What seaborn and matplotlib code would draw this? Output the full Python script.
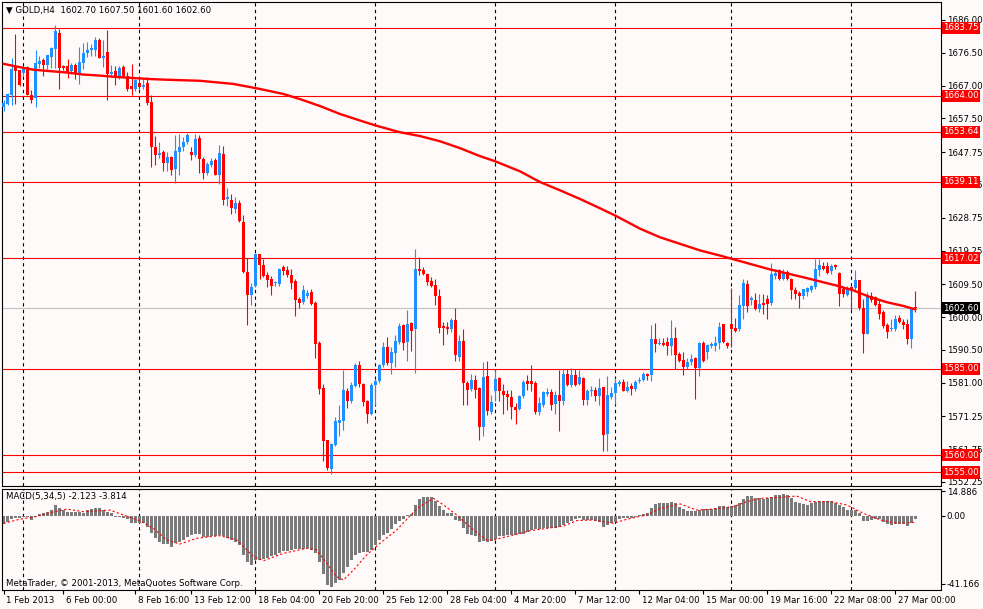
import matplotlib
matplotlib.use("Agg")
import matplotlib.pyplot as plt
import matplotlib.transforms as mtransforms
import pandas as pd
import seaborn as sns

# GOLD H4 candles (bar 0 = 1 Feb 2013)
opens = [
    1660.8, 1661.6, 1664.2, 1672.4, 1671.4, 1670.7, 1672.4, 1664.4, 1663.5, 1673.3,
    1674.3, 1673.1, 1675.4, 1677.5, 1682.3, 1672.8, 1672.7, 1671.2, 1673.1, 1670.4,
    1673.6, 1676.5, 1677.2, 1677.2, 1680.3, 1674.9, 1676.7, 1670.4, 1671.1, 1669.5,
    1672.4, 1669.9, 1666.8, 1666.1, 1667.7, 1666.6, 1667.7, 1662.4, 1649.2,
    1646.8, 1647.9, 1644.7, 1646.4, 1642.9, 1647.8, 1649.2, 1650.6, 1647.9, 1646.8, 1651.9,
    1645.8, 1641.8, 1643.9, 1645.6, 1641.2, 1647.3, 1634.3, 1633.9, 1631.3, 1633.1,
    1627.5, 1613.0, 1606.4, 1609.1, 1618.3, 1615.1, 1612.2, 1610.9, 1609.9, 1609.6,
    1614.4, 1613.5, 1612.3, 1610.3, 1605.1, 1604.3, 1606.1, 1607.2, 1604.1, 1592.5,
    1579.4, 1564.3, 1556.1, 1563.0, 1569.4, 1569.8, 1578.7, 1575.6, 1580.0, 1586.2,
    1580.7, 1575.6, 1571.8, 1580.2, 1581.4, 1586.2, 1591.3, 1586.8, 1589.7, 1592.7,
    1597.8, 1592.7, 1598.3, 1596.4, 1614.0, 1613.7, 1612.5, 1610.3, 1609.3, 1606.1,
    1597.4, 1597.0, 1596.4, 1599.0, 1588.4, 1593.2, 1581.0, 1579.2, 1581.9,
    1579.5, 1568.1, 1582.9, 1572.5, 1578.7, 1582.3, 1578.7, 1577.8, 1576.8, 1573.9, 1573.4,
    1577.1, 1581.6, 1581.4, 1581.0, 1572.5, 1574.6, 1577.8, 1578.3, 1574.9, 1577.5,
    1575.6, 1583.6, 1580.2, 1583.3, 1580.7, 1582.3, 1576.1, 1578.5, 1579.0, 1577.1,
    1579.7, 1566.2, 1576.8, 1578.1, 1580.7, 1581.1, 1578.7, 1580.0, 1579.2,
    1581.4, 1581.9, 1583.5, 1583.1, 1593.7, 1592.3, 1592.6, 1592.7, 1591.6, 1593.9, 1589.4,
    1587.6, 1585.5, 1587.0, 1588.1, 1585.2, 1592.5, 1590.0, 1591.6, 1591.6, 1592.6,
    1598.0, 1592.5, 1598.0, 1596.8, 1596.4, 1603.2, 1609.6, 1604.8, 1604.8, 1602.2,
    1604.1, 1605.3, 1604.1, 1612.0,
    1613.5, 1611.1, 1613.0, 1611.1, 1607.7, 1607.0, 1606.2, 1607.2, 1607.7, 1608.7,
    1613.5, 1614.7, 1614.7, 1613.2, 1615.1, 1612.8, 1608.0, 1606.4, 1608.7, 1608.4,
    1610.6, 1602.6, 1595.2, 1606.2, 1605.8, 1603.8, 1601.4, 1597.8, 1596.4, 1596.6,
    1599.7, 1598.7, 1598.0, 1593.5, 1602.7,
]
highs = [
    1662.9, 1665.0, 1675.1, 1682.0, 1671.6, 1672.4, 1672.6, 1665.8, 1677.4, 1675.6,
    1674.9, 1676.0, 1678.3, 1684.6, 1683.3, 1673.1, 1674.8, 1673.6, 1673.5, 1678.1,
    1679.3, 1679.6, 1679.1, 1681.0, 1680.9, 1680.3, 1683.2, 1673.1, 1672.8, 1672.6,
    1673.1, 1670.9, 1673.3, 1668.9, 1669.5, 1669.0, 1669.5, 1664.3, 1652.4,
    1650.6, 1648.4, 1647.7, 1646.6, 1652.8, 1653.1, 1652.1, 1653.2, 1649.2, 1653.1, 1652.8,
    1646.3, 1644.9, 1646.0, 1646.0, 1649.9, 1649.5, 1637.3, 1635.7, 1634.7, 1633.8,
    1629.6, 1617.1, 1609.9, 1618.6, 1618.3, 1616.9, 1613.0, 1612.0, 1610.3, 1614.2,
    1615.1, 1614.9, 1614.0, 1611.1, 1605.8, 1609.3, 1607.7, 1608.2, 1604.5, 1593.2,
    1580.7, 1564.3, 1563.6, 1571.0, 1574.6, 1584.8, 1579.4, 1581.3, 1586.8, 1587.2,
    1581.0, 1576.1, 1581.0, 1582.1, 1586.5, 1592.7, 1594.2, 1591.3, 1594.7, 1598.3,
    1598.0, 1601.9, 1598.7, 1619.8, 1617.3, 1614.5, 1612.8, 1611.6, 1610.9, 1608.2,
    1598.5, 1598.5, 1599.7, 1602.6, 1594.7, 1596.6, 1581.6, 1583.6, 1583.3,
    1579.7, 1587.1, 1587.3, 1577.5, 1584.8, 1582.6, 1580.7, 1579.0, 1579.0, 1575.2, 1577.5,
    1581.9, 1583.3, 1586.2, 1581.6, 1576.8, 1578.5, 1579.4, 1579.2, 1578.5, 1584.8,
    1585.0, 1585.0, 1585.2, 1585.0, 1584.8, 1582.6, 1579.2, 1580.0, 1579.7, 1582.3,
    1579.7, 1582.9, 1579.7, 1582.3, 1581.9, 1582.1, 1581.6, 1580.9, 1581.9,
    1582.6, 1584.1, 1583.9, 1597.8, 1598.3, 1593.9, 1593.9, 1594.1, 1599.0, 1597.1, 1590.0,
    1590.0, 1588.1, 1589.4, 1588.4, 1592.9, 1593.2, 1592.3, 1592.7, 1594.5, 1598.5,
    1598.0, 1592.9, 1608.4, 1599.7, 1606.3, 1610.9, 1610.6, 1606.1, 1607.0, 1606.7,
    1606.7, 1606.4, 1615.7, 1613.8,
    1613.8, 1613.8, 1613.5, 1611.4, 1608.7, 1607.4, 1608.2, 1608.7, 1609.4, 1616.9,
    1616.9, 1615.9, 1615.9, 1615.4, 1615.4, 1613.0, 1608.7, 1609.0, 1609.0, 1613.5,
    1610.6, 1605.3, 1607.2, 1607.2, 1606.2, 1605.1, 1601.9, 1598.3, 1599.3, 1600.5,
    1600.5, 1599.3, 1599.5, 1602.9, 1607.5,
]
lows = [
    1659.6, 1661.3, 1661.3, 1661.7, 1667.0, 1669.9, 1664.2, 1661.9, 1660.8, 1672.2,
    1669.9, 1671.9, 1672.1, 1672.1, 1666.1, 1671.4, 1669.3, 1670.4, 1669.0, 1667.5,
    1671.9, 1675.3, 1675.7, 1675.7, 1674.9, 1672.4, 1662.7, 1669.5, 1667.3, 1669.0,
    1669.5, 1665.4, 1664.4, 1665.4, 1666.1, 1666.1, 1661.3, 1643.4, 1644.1,
    1646.0, 1642.2, 1642.2, 1641.0, 1638.8, 1641.0, 1648.2, 1650.2, 1645.6, 1646.3, 1641.8,
    1640.0, 1641.2, 1643.4, 1641.0, 1638.6, 1632.5, 1632.1, 1629.9, 1630.2, 1627.5,
    1612.8, 1597.6, 1603.4, 1608.7, 1611.1, 1611.6, 1608.7, 1606.4, 1609.1, 1609.1,
    1612.2, 1611.6, 1608.0, 1600.3, 1602.6, 1603.8, 1605.5, 1603.5, 1588.2, 1577.8,
    1558.2, 1555.6, 1554.6, 1562.6, 1565.7, 1567.2, 1573.6, 1575.2, 1579.7, 1579.7,
    1574.2, 1569.4, 1571.5, 1574.4, 1581.0, 1585.5, 1586.2, 1583.6, 1585.5, 1592.3,
    1590.6, 1587.4, 1590.3, 1583.9, 1612.2, 1612.2, 1609.4, 1608.7, 1603.6, 1595.4,
    1592.0, 1595.2, 1595.8, 1587.2, 1587.4, 1574.6, 1574.6, 1578.7, 1576.5,
    1564.5, 1565.5, 1571.7, 1572.0, 1575.8, 1575.8, 1572.0, 1573.0, 1570.4, 1569.1, 1573.2,
    1576.5, 1579.0, 1578.7, 1572.0, 1571.7, 1573.9, 1577.1, 1573.2, 1572.0, 1566.9,
    1574.6, 1580.0, 1579.7, 1580.0, 1580.4, 1574.6, 1574.6, 1577.1, 1575.8, 1574.6,
    1561.1, 1561.1, 1576.3, 1574.9, 1580.0, 1578.5, 1578.3, 1577.5, 1578.7,
    1581.0, 1581.6, 1581.9, 1581.6, 1589.8, 1592.0, 1591.6, 1589.1, 1589.1, 1585.0, 1587.1,
    1583.3, 1585.0, 1586.2, 1576.3, 1582.9, 1586.9, 1587.9, 1591.0, 1590.3, 1590.8,
    1592.5, 1591.0, 1591.3, 1595.8, 1596.1, 1599.3, 1601.6, 1603.4, 1601.9, 1601.4,
    1600.9, 1599.5, 1603.5, 1611.1,
    1610.6, 1610.6, 1610.8, 1605.3, 1605.1, 1602.6, 1605.3, 1606.2, 1607.2, 1608.2,
    1612.0, 1613.5, 1612.5, 1612.5, 1613.8, 1603.2, 1605.8, 1606.2, 1601.9, 1607.7,
    1601.9, 1589.6, 1595.2, 1604.3, 1603.2, 1599.5, 1596.8, 1593.9, 1596.1, 1596.1,
    1598.3, 1596.6, 1592.3, 1591.0, 1601.6,
]
closes = [
    1661.9, 1664.6, 1671.9, 1671.2, 1667.3, 1671.9, 1664.4, 1662.9, 1673.5, 1674.0,
    1673.1, 1675.8, 1677.8, 1682.7, 1672.2, 1672.2, 1670.6, 1673.0, 1670.4, 1673.9,
    1676.5, 1677.4, 1677.8, 1680.3, 1674.9, 1675.7, 1670.4, 1670.8, 1669.5, 1672.1,
    1669.9, 1666.1, 1666.1, 1668.5, 1666.6, 1667.3, 1661.9, 1649.2, 1646.8,
    1647.6, 1644.7, 1646.4, 1642.7, 1648.0, 1649.3, 1650.8, 1652.8, 1646.8, 1651.6, 1645.8,
    1641.8, 1644.4, 1645.3, 1641.2, 1647.6, 1633.8, 1634.8, 1631.5, 1633.1, 1627.7,
    1613.0, 1606.4, 1608.7, 1618.3, 1615.0, 1611.9, 1610.6, 1609.1, 1610.1, 1614.0,
    1613.4, 1612.2, 1609.9, 1604.8, 1604.1, 1607.8, 1606.9, 1603.8, 1592.3, 1579.2,
    1564.0, 1556.3, 1563.3, 1569.8, 1570.3, 1579.0, 1575.6, 1580.2, 1586.2, 1580.7,
    1575.4, 1572.0, 1580.2, 1581.6, 1586.2, 1591.3, 1586.8, 1590.0, 1593.2, 1597.4,
    1592.5, 1598.0, 1596.1, 1613.8, 1613.2, 1612.5, 1610.1, 1609.1, 1606.1, 1596.8,
    1596.8, 1596.4, 1599.0, 1589.1, 1593.2, 1581.0, 1579.0, 1581.9, 1579.0,
    1568.1, 1582.6, 1572.7, 1575.4, 1582.1, 1578.7, 1577.5, 1576.8, 1573.9, 1573.2, 1577.1,
    1581.3, 1580.7, 1580.7, 1572.5, 1575.2, 1578.3, 1578.3, 1574.6, 1577.3, 1575.6,
    1583.6, 1580.2, 1583.3, 1580.4, 1582.6, 1576.1, 1578.7, 1579.0, 1577.1, 1579.4,
    1565.9, 1577.5, 1578.1, 1581.0, 1581.3, 1578.7, 1579.6, 1579.2, 1581.1,
    1581.9, 1583.6, 1582.9, 1593.7, 1592.3, 1592.5, 1592.0, 1591.6, 1593.9, 1588.9, 1587.4,
    1585.5, 1587.0, 1587.9, 1585.2, 1592.5, 1587.4, 1592.0, 1592.2, 1592.6, 1597.1,
    1592.7, 1591.6, 1596.6, 1596.1, 1603.6, 1609.9, 1603.2, 1605.5, 1602.2, 1603.8,
    1603.6, 1603.8, 1612.5, 1612.8,
    1611.1, 1612.8, 1611.1, 1607.7, 1606.7, 1606.1, 1608.0, 1608.4, 1609.0, 1614.0,
    1615.0, 1614.0, 1612.8, 1614.7, 1614.5, 1606.7, 1606.7, 1608.0, 1607.7, 1610.6,
    1602.6, 1595.2, 1606.2, 1604.8, 1603.6, 1600.9, 1597.4, 1595.8, 1596.8, 1599.3,
    1598.7, 1597.8, 1593.7, 1602.4, 1602.6,
]

# moving average (red line), read at these bar positions
ma_bars = [0, 3.4, 7.5, 11.6, 15.8, 20, 24.1, 28.3, 32.5, 36.6, 40.9, 49.1, 57.4,
           63.4, 69.9, 74.1, 79.1, 84.1, 89.1, 92.9, 99.1, 104.1, 109.1, 114.1,
           119.1, 122.9, 129.1, 134.1, 139.1, 144.1, 149.1, 152.9, 159.1, 164.1,
           169.1, 174.1, 179.1, 184.1, 191.6, 200.0, 208.3, 212.5, 216.6, 220.8,
           225.0, 228.0]
ma_vals = [1673.3, 1672.5, 1671.6, 1671.2, 1670.8, 1670.2, 1669.9, 1669.5, 1669.2,
           1668.9, 1668.7, 1668.4, 1667.5, 1666.2, 1664.6, 1663.1, 1661.1, 1658.8,
           1656.9, 1655.5, 1653.5, 1652.4, 1650.9, 1648.9, 1646.6, 1645.1, 1642.2,
           1639.1, 1636.7, 1634.2, 1631.5, 1629.4, 1625.6, 1623.1, 1621.2, 1619.3,
           1617.8, 1616.2, 1613.8, 1611.5, 1609.1, 1607.7, 1605.8, 1604.3, 1603.2,
           1602.2]

# MACD(5,34,5) main values, one per bar
macd_main = [
    -5.0, -3.4, -2.0, -1.4, -1.0, -0.8, -0.4, -2.4, -0.8, 1.0,
    2.0, 2.6, 3.6, 6.7, 4.6, 3.6, 2.6, 2.2, 2.4, 2.6,
    2.0, 3.6, 4.0, 4.8, 4.6, 3.6, 2.4, 1.6, -0.4, -0.8,
    -1.4, -2.0, -4.0, -4.0, -4.0, -4.4, -6.5, -10.1, -13.5, -15.6,
    -17.2, -17.2, -18.6, -16.6, -15.6, -14.5, -12.9, -11.5, -11.1, -10.9,
    -12.5, -12.5, -12.1, -12.1, -11.5, -12.1, -13.5, -14.5, -15.6, -17.6,
    -23.6, -27.7, -29.7, -26.7, -26.7, -26.3, -25.3, -24.2, -23.6, -22.6,
    -21.2, -21.0, -20.6, -20.2, -20.2, -20.2, -19.6, -20.6, -22.6, -27.7,
    -35.4, -41.8, -42.8, -40.8, -38.8, -34.7, -30.7, -26.7, -23.6, -22.2,
    -21.6, -21.6, -20.6, -17.6, -14.5, -11.5, -10.1, -8.1, -5.1, -2.8,
    -2.0, 0.4, 1.2, 6.7, 10.1, 11.7, 11.7, 11.3, 9.3, 6.1,
    3.6, 2.0, 1.6, -2.4, -2.8, -7.5, -10.9, -11.5, -12.1, -15.6,
    -15.2, -15.6, -15.2, -14.1, -12.1, -11.9, -11.5, -11.5, -11.5, -11.1,
    -10.9, -9.5, -8.5, -8.1, -8.1, -7.5, -7.1, -7.1, -7.1, -6.5,
    -5.5, -4.0, -2.8, -2.0, -1.4, -2.4, -2.4, -2.4, -2.8, -3.4,
    -6.5, -5.5, -4.4, -3.4, -2.0, -1.4, -1.4, -1.0, -0.4, 0.6,
    1.0, 1.6, 4.6, 7.3, 7.7, 7.7, 8.1, 8.3, 7.7, 5.3,
    4.0, 3.0, 3.0, 3.2, 3.6, 4.0, 4.0, 4.2, 4.6, 6.1,
    6.1, 5.7, 6.1, 6.7, 7.7, 10.1, 12.1, 12.1, 10.7, 10.7,
    10.1, 10.7, 11.3, 12.7, 12.7, 13.1, 12.7, 10.7, 8.7, 7.7,
    7.3, 6.7, 7.7, 8.7, 9.3, 9.3, 9.3, 9.3, 8.1, 6.7,
    5.7, 3.6, 3.6, 3.6, 1.6, -2.8, -2.8, -2.4, -2.0, -2.0,
    -3.4, -4.8, -5.5, -4.8, -4.8, -4.8, -6.1, -4.0, -2.1,
]

# MACD signal line, read at these bar positions
sig_bars = [0, 4, 8, 11.6, 15.8, 20, 24, 26.6, 30, 34, 37.5, 40.8, 44.1, 48.3, 54,
            58.3, 62.5, 65, 70, 75.8, 78.3, 80.8, 83.3, 85, 87.5, 90.8, 94.1, 98.3,
            101.6, 104, 107.5, 110, 113.3, 117.5, 120.8, 122.5, 127.5, 131.7, 135.8,
            140, 143.3, 147.5, 152.5, 155.8, 160.8, 164.2, 169.2, 173.3, 177.5, 182.5,
            185.8, 189.2, 194.2, 198.3, 201.7, 206.7, 210.8, 215, 219.2, 223.3, 228]
sig_vals = [-4.4, -2.0, -0.4, 2.0, 4.2, 2.6, 3.2, 3.6, 0.6, -2.8, -7.5, -14.5, -17.0,
            -13.5, -11.9, -14.5, -24.6, -27.1, -22.6, -19.6, -20.6, -28.7, -36.8,
            -38.8, -32.7, -23.6, -16.6, -8.5, 0.0, 5.7, 10.7, 6.7, 0.6, -8.5, -14.5,
            -14.5, -11.5, -8.9, -7.5, -6.1, -2.8, -2.4, -4.4, -2.0, 0.6, 4.6, 7.3,
            3.6, 4.2, 5.7, 8.7, 10.7, 11.3, 12.1, 8.7, 8.7, 6.7, 1.6, -2.4, -4.4, -3.8]

level_lines = [1683.75, 1664.00, 1653.64, 1639.11, 1617.02, 1585.00, 1560.00, 1555.00]
last_price = 1602.60
price_ticks = [1686.00, 1676.50, 1667.00, 1657.50, 1647.75, 1638.25, 1628.75,
               1619.25, 1609.50, 1600.00, 1590.50, 1581.00, 1571.25, 1561.75, 1552.25]
macd_ticks = [14.886, 0.0, -41.166]
macd_tick_labels = ["14.886", "0.00", "-41.166"]
date_bars = [0, 15, 33, 47, 63, 79, 95, 111, 127, 143, 159, 175, 191, 207, 223]
date_labels = ["1 Feb 2013", "6 Feb 00:00", "8 Feb 16:00", "13 Feb 12:00",
               "18 Feb 04:00", "20 Feb 20:00", "25 Feb 12:00", "28 Feb 04:00",
               "4 Mar 20:00", "7 Mar 12:00", "12 Mar 04:00", "15 Mar 00:00",
               "19 Mar 16:00", "22 Mar 08:00", "27 Mar 00:00"]
grid_bars = [5, 34, 63, 93, 123, 153, 182, 212]

header = "\u25bc GOLD,H4  1602.70 1607.50 1601.60 1602.60"
macd_title = "MACD(5,34,5) -2.123 -3.814"
copyright_text = "MetaTrader, \u00a9 2001-2013, MetaQuotes Software Corp."


def main():
    bg = "#fffafa"
    up_col = "#1e90ff"
    down_col = "#ff0000"
    fs = 6.2

    sns.set_theme(style="white", rc={"axes.facecolor": bg, "figure.facecolor": bg,
                                     "axes.edgecolor": "black", "axes.linewidth": 0.8})
    plt.rcParams["font.family"] = ["DejaVu Sans"]

    W, H = 983, 609
    fig = plt.figure(figsize=(W / 100, H / 100), dpi=100)
    ax = fig.add_axes([2 / W, 1 - 486 / H, 938.5 / W, 484 / H])
    axm = fig.add_axes([2 / W, 1 - 590 / H, 938.5 / W, 101 / H])

    df = pd.DataFrame({"open": opens, "high": highs, "low": lows, "close": closes})
    df["bar"] = range(len(df))
    df["up"] = df["close"] >= df["open"]
    cols = [up_col if u else down_col for u in df["up"]]
    body_lo = df[["open", "close"]].min(axis=1)
    body_h = (df["close"] - df["open"]).abs().clip(lower=0.3)

    for g in grid_bars:
        for a in (ax, axm):
            a.axvline(g, color="black", lw=0.8, ls=(0, (3, 3)), zorder=1)
    for lv in level_lines:
        ax.axhline(lv, color="red", lw=0.8, zorder=1.5)
    ax.axhline(last_price, color="#c0c0c0", lw=0.8, zorder=1.4)

    ax.vlines(df["bar"], df["low"], df["high"], colors=cols, lw=0.8, zorder=3)
    ax.bar(df["bar"], body_h, bottom=body_lo, width=0.68, color=cols,
           linewidth=0, zorder=3.1)
    sns.lineplot(x=ma_bars, y=ma_vals, color="red", lw=1.7, ax=ax, zorder=4)

    ax.set_xlim(-0.375, 234.25)
    ax.set_ylim(1551.08, 1691.21)
    ax.yaxis.tick_right()
    ax.set_yticks(price_ticks)
    ax.set_yticklabels([f"{v:.2f}" for v in price_ticks])
    ax.tick_params(axis="y", direction="out", length=3, width=0.8, pad=1.5,
                   labelsize=fs, colors="black", right=True, left=False)
    ax.tick_params(axis="x", bottom=False, labelbottom=False)
    ax.set_xlabel("")
    ax.set_ylabel("")

    ytr = ax.get_yaxis_transform()
    for lv in level_lines:
        ax.text(1.0028, lv, f"{lv:.2f}", transform=ytr, ha="left", va="center",
                fontsize=fs, color="white", clip_on=False, zorder=10,
                bbox=dict(boxstyle="square,pad=0.18", fc="red", ec="none"))
    ax.text(1.0028, last_price, f"{last_price:.2f}", transform=ytr, ha="left",
            va="center", fontsize=fs, color="white", clip_on=False, zorder=10,
            bbox=dict(boxstyle="square,pad=0.18", fc="black", ec="none"))
    ax.text(4 / 938.5, 1 - 8 / 484, header, transform=ax.transAxes, ha="left",
            va="center", fontsize=fs, color="black")

    # MACD panel
    mdf = pd.DataFrame({"bar": range(len(macd_main)), "macd": macd_main})
    sns.barplot(data=mdf, x="bar", y="macd", color="#7a7a7a", saturation=1,
                width=0.68, errorbar=None, linewidth=0, ax=axm, zorder=2)
    axm.plot(sig_bars, sig_vals, color="red", lw=0.8, ls=(0, (2, 2)), zorder=3)

    axm.set_xlim(-0.375, 234.25)
    axm.set_ylim(-44.85, 16.36)
    axm.yaxis.tick_right()
    axm.set_yticks(macd_ticks)
    axm.set_yticklabels(macd_tick_labels)
    axm.tick_params(axis="y", direction="out", length=3, width=0.8, pad=1.5,
                    labelsize=fs, colors="black", right=True, left=False)
    axm.set_xticks(date_bars)
    axm.set_xticklabels(date_labels)
    axm.tick_params(axis="x", direction="out", length=3, width=0.8, pad=1,
                    labelsize=fs, colors="black", bottom=True)
    shift = mtransforms.ScaledTranslation(3 / 100, 0, fig.dpi_scale_trans)
    for lab in axm.get_xticklabels():
        lab.set_ha("left")
        lab.set_transform(lab.get_transform() + shift)
    axm.set_xlabel("")
    axm.set_ylabel("")
    axm.text(4 / 938.5, 1 - 8 / 101, macd_title, transform=axm.transAxes,
             ha="left", va="center", fontsize=fs, color="black")
    axm.text(4 / 938.5, 1 - 94 / 101, copyright_text, transform=axm.transAxes,
             ha="left", va="center", fontsize=fs, color="black")

    for a in (ax, axm):
        for sp in a.spines.values():
            sp.set_color("black")
            sp.set_linewidth(0.8)

    fig.savefig("out.png", dpi=100, facecolor=bg)
    plt.close(fig)


if __name__ == "__main__":
    main()
